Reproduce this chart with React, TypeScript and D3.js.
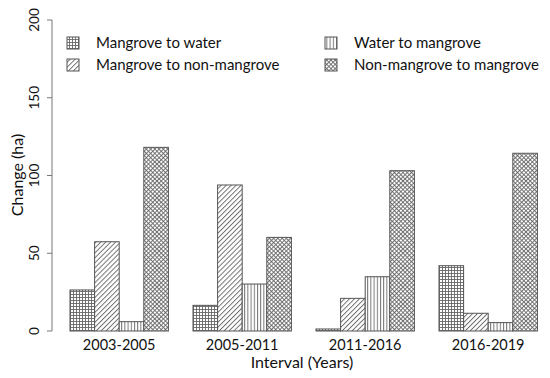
import * as d3 from 'd3';

const intervals = ['2003-2005', '2005-2011', '2011-2016', '2016-2019'];
const seriesNames = [
  'Mangrove to water',
  'Mangrove to non-mangrove',
  'Water to mangrove',
  'Non-mangrove to mangrove',
];
const mangroveToWater = [26.4, 16.5, 1.3, 42];
const mangroveToNonMangrove = [57.4, 93.9, 21, 11.4];
const waterToMangrove = [6, 30.2, 34.9, 5.4];
const nonMangroveToMangrove = [118.1, 60.2, 103.1, 114.3];
const yTicks = [0, 50, 100, 150, 200];

const allSeries = [mangroveToWater, mangroveToNonMangrove, waterToMangrove, nonMangroveToMangrove];
const patternIds = ['pGrid', 'pDiag', 'pVert', 'pCross'];

const W = 550;
const H = 378;
const FONT = 'Lato, "Open Sans", sans-serif';

export default function App() {
  const x0 = d3
    .scaleBand<string>()
    .domain(intervals)
    .range([57.7, 549.7])
    .paddingInner(0.2)
    .paddingOuter(0.1);

  const x1 = d3
    .scaleBand<number>()
    .domain(d3.range(seriesNames.length))
    .range([0, x0.bandwidth()]);

  const y = d3.scaleLinear().domain([0, 200]).range([331, 20]);

  // legend layout, two columns
  const legendItems = [
    { i: 0, sx: 67, tx: 96, cy: 43 },
    { i: 1, sx: 67, tx: 96, cy: 65 },
    { i: 2, sx: 325, tx: 354, cy: 43 },
    { i: 3, sx: 325, tx: 354, cy: 65 },
  ];

  const lineCol = '#666';

  return (
    <svg
      width={W}
      height={H}
      style={{ position: 'absolute', left: 0, top: 0, background: '#fff' }}
      fontFamily={FONT}
    >
      <defs>
        <pattern id="pGrid" width={3} height={3} patternUnits="userSpaceOnUse">
          <rect width={3} height={3} fill="#fff" />
          <path d="M0,0.5H3M0.5,0V3" stroke={lineCol} strokeWidth={0.9} />
        </pattern>
        <pattern id="pDiag" width={3.5} height={3.5} patternUnits="userSpaceOnUse" patternTransform="rotate(45)">
          <rect width={3.5} height={3.5} fill="#fff" />
          <path d="M0.5,0V3.5" stroke={lineCol} strokeWidth={0.9} />
        </pattern>
        <pattern id="pVert" width={3.2} height={3.2} patternUnits="userSpaceOnUse">
          <rect width={3.2} height={3.2} fill="#fff" />
          <path d="M0.5,0V3.2" stroke={lineCol} strokeWidth={0.9} />
        </pattern>
        <pattern id="pCross" width={3} height={3} patternUnits="userSpaceOnUse" patternTransform="rotate(45)">
          <rect width={3} height={3} fill="#fff" />
          <path d="M0,0.5H3M0.5,0V3" stroke={lineCol} strokeWidth={0.9} />
        </pattern>
      </defs>

      {/* bars */}
      {intervals.map((iv, gi) => (
        <g key={iv} transform={`translate(${x0(iv)},0)`}>
          {allSeries.map((vals, si) => (
            <rect
              key={si}
              x={x1(si)}
              y={y(vals[gi])}
              width={x1.bandwidth()}
              height={y(0) - y(vals[gi])}
              fill={`url(#${patternIds[si]})`}
              stroke="#555"
              strokeWidth={1}
            />
          ))}
          <text
            x={x0.bandwidth() / 2}
            y={350}
            textAnchor="middle"
            fontSize={14.5}
            fill="#111"
          >
            {iv}
          </text>
        </g>
      ))}

      {/* y axis */}
      <g>
        <line x1={52} x2={52} y1={y(200)} y2={y(0)} stroke="#777" />
        {yTicks.map((t) => (
          <g key={t} transform={`translate(52,${y(t)})`}>
            <line x1={-5} x2={0} stroke="#777" />
            <text
              transform="translate(-13,0) rotate(-90)"
              textAnchor="middle"
              fontSize={13.5}
              fill="#111"
            >
              {t}
            </text>
          </g>
        ))}
      </g>

      <text
        transform="translate(23,175) rotate(-90)"
        textAnchor="middle"
        fontSize={16}
        fill="#111"
      >
        Change (ha)
      </text>
      <text x={302} y={368} textAnchor="middle" fontSize={16} fill="#111">
        Interval (Years)
      </text>

      {/* legend */}
      {legendItems.map((d) => (
        <g key={d.i}>
          <rect
            x={d.sx}
            y={d.cy - 6}
            width={12}
            height={12}
            fill={`url(#${patternIds[d.i]})`}
            stroke="#555"
          />
          <text x={d.tx} y={d.cy + 5} fontSize={15} fill="#111">
            {seriesNames[d.i]}
          </text>
        </g>
      ))}
    </svg>
  );
}
